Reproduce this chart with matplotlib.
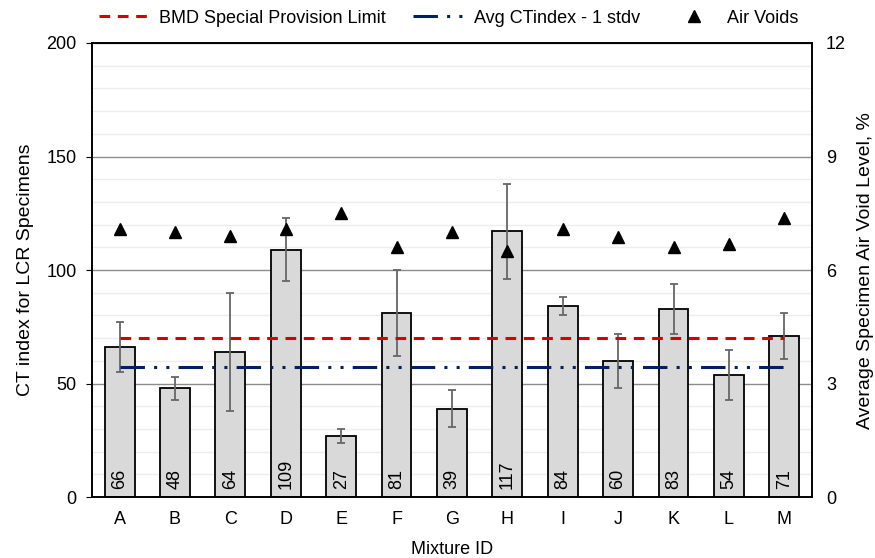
import matplotlib
matplotlib.use("Agg")
import matplotlib.pyplot as plt
from matplotlib.ticker import MultipleLocator
from matplotlib.lines import Line2D

plt.rcParams['font.family'] = ['Liberation Sans', 'DejaVu Sans']

mixtures = ["A", "B", "C", "D", "E", "F", "G", "H", "I", "J", "K", "L", "M"]
ct_index = [66, 48, 64, 109, 27, 81, 39, 117, 84, 60, 83, 54, 71]
ct_stdev = [11, 5, 26, 14, 3, 19, 8, 21, 4, 12, 11, 11, 10]
air_voids = [7.08, 7.0, 6.9, 7.08, 7.5, 6.6, 7.0, 6.5, 7.08, 6.88, 6.6, 6.7, 7.37]
bmd_limit = 70
avg_minus_stdv = 57.4

fig = plt.figure(figsize=(8.75, 5.58), dpi=100)
ax = fig.add_axes([0.105, 0.109, 0.823, 0.814])
ax2 = ax.twinx()

x = list(range(len(mixtures)))

ax.yaxis.set_minor_locator(MultipleLocator(10))
ax.grid(which='minor', axis='y', color='#EDEDED', linewidth=1.0, zorder=0)
ax.grid(which='major', axis='y', color='#8C8C8C', linewidth=1.0, zorder=0)
ax.set_axisbelow(True)

ax.bar(x, ct_index, width=0.54, color='#D9D9D9', edgecolor='black', linewidth=1.3, zorder=2)
ax.errorbar(x, ct_index, yerr=ct_stdev, fmt='none', ecolor='#666666', elinewidth=1.3,
            capsize=3, capthick=1.3, zorder=3)

for xi, v in zip(x, ct_index):
    ax.text(xi, 3.5, f"{v}", rotation=90, ha='center', va='bottom', fontsize=13, zorder=4)

ax.plot([x[0], x[-1]], [bmd_limit, bmd_limit], color='#D40000', linestyle=(0, (3.5, 2.5)),
        linewidth=2.2, zorder=4)
ax.plot([x[0], x[-1]], [avg_minus_stdv, avg_minus_stdv], color='#002060',
        linestyle=(0, (8, 3, 1, 3, 1, 3)), linewidth=2.2, zorder=4)

ax2.plot(x, air_voids, linestyle='none', marker='^', color='black', markersize=9, zorder=5)

ax.set_xlim(-0.5, len(mixtures) - 0.5)
ax.set_ylim(0, 200)
ax.set_yticks([0, 50, 100, 150, 200])
ax2.set_ylim(0, 12)
ax2.set_yticks([0, 3, 6, 9, 12])

ax.set_xticks(x)
ax.set_xticklabels(mixtures)
ax.tick_params(axis='x', length=0, labelsize=13, pad=10)
ax.tick_params(axis='y', which='major', length=4, direction='out', labelsize=13, pad=7)
ax.tick_params(axis='y', which='minor', length=0)
ax2.tick_params(axis='y', length=0, labelsize=13, pad=10)

for s in ax.spines.values():
    s.set_linewidth(1.2)
for s in ax2.spines.values():
    s.set_linewidth(1.2)

ax.set_xlabel("Mixture ID", fontsize=13, labelpad=9)
ax.set_ylabel("CT index for LCR Specimens", fontsize=14, labelpad=9)
ax2.set_ylabel("Average Specimen Air Void Level, %", fontsize=14, labelpad=8)

handles = [
    Line2D([], [], color='#D40000', linestyle=(0, (3.5, 2.5)), linewidth=2.2),
    Line2D([], [], color='#002060', linestyle=(0, (8, 3, 1, 3, 1, 3)), linewidth=2.2),
    Line2D([], [], color='black', linestyle='none', marker='^', markersize=8),
]
labels = ["BMD Special Provision Limit", "Avg CTindex - 1 stdv", "Air Voids"]
fig.legend(handles, labels, loc='upper center', bbox_to_anchor=(0.513, 1.012), ncol=3,
           frameon=False, fontsize=13, handlelength=3.0, columnspacing=1.5, handletextpad=0.35)

fig.savefig("out.png", dpi=100)
